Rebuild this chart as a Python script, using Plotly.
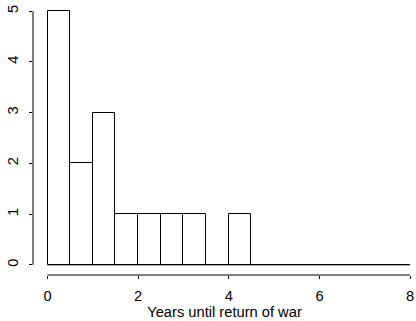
import plotly.graph_objects as go

bin_edges = [0, 0.5, 1, 1.5, 2, 2.5, 3, 3.5, 4, 4.5, 5, 5.5, 6, 6.5, 7, 7.5, 8]
counts = [5, 2, 3, 1, 1, 1, 1, 0, 1, 0, 0, 0, 0, 0, 0, 0]
x_ticks = [0, 2, 4, 6, 8]
y_ticks = [0, 1, 2, 3, 4, 5]
x_title = "Years until return of war"

centers = [(a + b) / 2 for a, b in zip(bin_edges[:-1], bin_edges[1:])]
widths = [b - a for a, b in zip(bin_edges[:-1], bin_edges[1:])]

fig = go.Figure()
fig.add_trace(go.Bar(
    x=centers, y=counts, width=widths,
    marker=dict(color="white", line=dict(color="black", width=1)),
    showlegend=False, hoverinfo="skip",
))
# baseline of the empty bins
fig.add_trace(go.Scatter(
    x=bin_edges, y=[0] * len(bin_edges), mode="lines",
    line=dict(color="black", width=1), showlegend=False, hoverinfo="skip",
))

font = dict(family="Liberation Sans, Arial, sans-serif", size=14.7, color="black")

# R-style detached axis lines
fig.add_shape(type="line", xref="x", yref="paper", x0=x_ticks[0], x1=x_ticks[-1], y0=0, y1=0,
              line=dict(color="black", width=1))
fig.add_shape(type="line", xref="paper", yref="y", x0=0, x1=0, y0=y_ticks[0], y1=y_ticks[-1],
              line=dict(color="black", width=1))

fig.update_layout(
    width=416, height=321,
    margin=dict(l=33, r=0, t=1, b=46),
    plot_bgcolor="white", paper_bgcolor="white",
    font=font,
    bargap=0,
    xaxis=dict(range=[-0.32, 8.13], tickvals=x_ticks, ticks="outside", ticklen=3,
               tickcolor="black", tickwidth=1, showgrid=False, zeroline=False, showline=False,
               tickfont=font, ticklabelstandoff=4,
               title=dict(text=x_title, font=font, standoff=2)),
    yaxis=dict(range=[-0.2, 5.2], tickvals=y_ticks, ticks="outside", ticklen=3,
               tickcolor="black", tickwidth=1, showgrid=False, zeroline=False, showline=False,
               tickangle=-90, tickfont=font, ticklabelstandoff=5),
)

fig.write_html("out.html")
